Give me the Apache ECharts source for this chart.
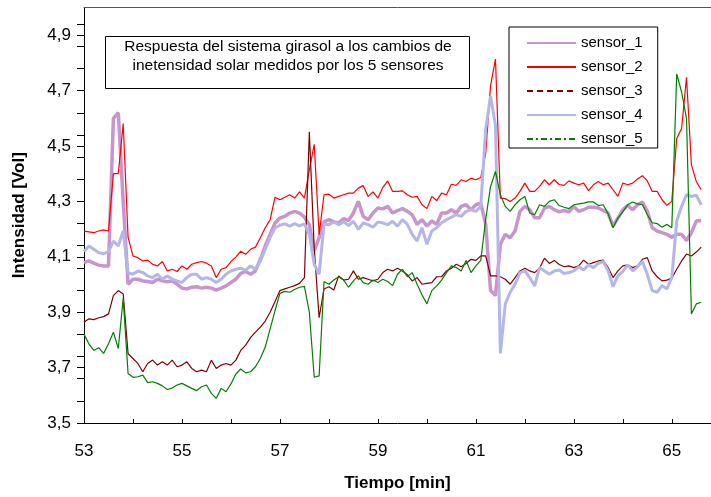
<!DOCTYPE html>
<html>
<head>
<meta charset="utf-8">
<script src="https://cdn.jsdelivr.net/npm/echarts@6/dist/echarts.min.js"></script>
<style>
html,body{margin:0;padding:0;background:#fff;}
#chart{width:711px;height:497px;}
</style>
</head>
<body>
<div id="chart"></div>
<script>
// tiempo en minutos
var tiempo=[53,53.1,53.2,53.3,53.4,53.5,53.6,53.7,53.8,53.9,
	54,54.1,54.2,54.3,54.4,54.5,54.6,54.7,54.8,54.9,
	55,55.1,55.2,55.3,55.4,55.5,55.6,55.7,55.8,55.9,
	56,56.1,56.2,56.3,56.4,56.5,56.6,56.7,56.8,56.9,
	57,57.1,57.2,57.3,57.4,57.5,57.6,57.7,57.8,57.9,
	58,58.1,58.2,58.3,58.4,58.5,58.6,58.7,58.8,58.9,
	59,59.1,59.2,59.3,59.4,59.5,59.6,59.7,59.8,59.9,
	60,60.1,60.2,60.3,60.4,60.5,60.6,60.7,60.8,60.9,
	61,61.1,61.2,61.3,61.4,61.5,61.6,61.7,61.8,61.9,
	62,62.1,62.2,62.3,62.4,62.5,62.6,62.7,62.8,62.9,
	63,63.1,63.2,63.3,63.4,63.5,63.6,63.7,63.8,63.9,
	64,64.1,64.2,64.3,64.4,64.5,64.6,64.7,64.8,64.9,
	65,65.1,65.2,65.3,65.4,65.5,65.6];

var sensor1=[4.079,4.085,4.077,4.070,4.067,4.067,4.60,4.62,4.30,4.001,
	4.019,4.019,4.013,4.011,4.007,4.019,4.013,4.010,4.013,4.001,
	3.987,3.984,3.990,3.992,3.987,3.990,3.987,3.980,3.987,3.995,
	4.007,4.019,4.040,4.047,4.037,4.049,4.091,4.139,4.181,4.222,
	4.240,4.246,4.258,4.264,4.258,4.243,4.216,4.121,4.169,4.226,
	4.234,4.226,4.222,4.238,4.231,4.258,4.300,4.246,4.234,4.258,
	4.276,4.273,4.282,4.258,4.267,4.274,4.264,4.252,4.217,4.234,
	4.211,4.229,4.217,4.258,4.258,4.270,4.258,4.282,4.288,4.270,
	4.288,4.294,4.217,3.978,3.960,4.145,4.181,4.169,4.193,4.264,
	4.282,4.270,4.241,4.241,4.276,4.282,4.270,4.262,4.267,4.262,
	4.282,4.264,4.270,4.279,4.279,4.276,4.267,4.258,4.211,4.240,
	4.270,4.286,4.270,4.288,4.298,4.264,4.205,4.193,4.187,4.181,
	4.171,4.181,4.181,4.159,4.187,4.229,4.231];

var sensor2=[4.193,4.190,4.187,4.193,4.197,4.193,4.400,4.400,4.581,4.170,
	4.103,4.097,4.085,4.088,4.073,4.067,4.083,4.049,4.055,4.047,
	4.067,4.055,4.073,4.079,4.083,4.077,4.067,4.025,4.055,4.061,
	4.083,4.099,4.120,4.109,4.127,4.135,4.169,4.205,4.234,4.315,
	4.306,4.315,4.324,4.312,4.334,4.312,4.414,4.506,4.180,4.324,
	4.326,4.312,4.318,4.324,4.330,4.330,4.348,4.357,4.318,4.334,
	4.312,4.350,4.374,4.336,4.336,4.338,4.324,4.315,4.318,4.288,
	4.274,4.318,4.303,4.330,4.324,4.362,4.358,4.378,4.372,4.384,
	4.378,4.386,4.473,4.718,4.814,4.312,4.310,4.300,4.312,4.336,
	4.366,4.336,4.336,4.354,4.378,4.360,4.378,4.361,4.358,4.374,
	4.366,4.360,4.366,4.339,4.360,4.372,4.360,4.366,4.342,4.318,
	4.366,4.360,4.366,4.381,4.393,4.374,4.336,4.336,4.306,4.286,
	4.300,4.527,4.563,4.748,4.432,4.372,4.342];

var sensor3=[3.864,3.876,3.873,3.880,3.884,3.894,3.960,3.978,3.966,3.750,
	3.733,3.715,3.685,3.715,3.727,3.709,3.721,3.709,3.727,3.703,
	3.709,3.721,3.697,3.685,3.691,3.685,3.727,3.697,3.709,3.715,
	3.709,3.727,3.762,3.781,3.808,3.828,3.846,3.868,3.900,3.939,
	3.978,3.984,3.990,3.996,4.004,4.025,4.551,4.130,3.880,3.984,
	3.992,3.980,4.031,4.016,4.019,4.049,4.019,4.025,4.019,4.013,
	4.019,4.043,4.055,4.049,4.059,4.049,4.035,4.013,4.025,4.001,
	4.004,4.007,4.028,4.028,4.049,4.059,4.073,4.064,4.076,4.091,
	4.087,4.103,4.103,4.031,4.031,4.028,4.019,4.001,4.025,4.049,
	4.059,4.049,4.043,4.059,4.095,4.076,4.087,4.072,4.064,4.067,
	4.061,4.067,4.088,4.073,4.079,4.085,4.088,4.061,4.025,4.049,
	4.067,4.071,4.061,4.067,4.091,4.097,4.049,4.028,4.013,4.016,
	4.023,4.055,4.085,4.110,4.103,4.117,4.135];

var sensor4=[4.119,4.139,4.127,4.115,4.111,4.119,4.157,4.139,4.193,4.043,
	4.037,4.049,4.043,4.031,4.025,4.037,4.019,4.031,4.019,4.013,
	4.007,4.025,4.037,4.037,4.019,4.025,4.019,4.007,4.019,4.037,
	4.049,4.055,4.059,4.052,4.067,4.055,4.085,4.127,4.169,4.205,
	4.214,4.219,4.211,4.220,4.212,4.219,4.181,4.073,4.037,4.219,
	4.216,4.226,4.216,4.226,4.213,4.228,4.199,4.222,4.216,4.207,
	4.226,4.222,4.216,4.228,4.211,4.234,4.217,4.181,4.157,4.205,
	4.145,4.193,4.205,4.223,4.234,4.243,4.252,4.246,4.264,4.270,
	4.264,4.282,4.560,4.680,4.575,3.751,3.930,3.972,4.001,4.043,
	4.049,4.025,3.995,4.061,4.049,4.037,4.049,4.052,4.040,4.043,
	4.049,4.064,4.052,4.071,4.061,4.076,4.083,4.049,3.992,4.031,
	4.047,4.071,4.049,4.064,4.083,4.037,3.978,3.972,3.996,3.984,
	4.025,4.229,4.282,4.324,4.318,4.322,4.288];

var sensor5=[3.820,3.786,3.762,3.772,3.751,3.786,3.828,3.769,3.950,3.679,
	3.665,3.667,3.673,3.646,3.649,3.643,3.634,3.621,3.626,3.637,
	3.643,3.634,3.625,3.617,3.631,3.637,3.607,3.589,3.625,3.613,
	3.641,3.677,3.695,3.681,3.685,3.703,3.733,3.774,3.840,3.906,
	3.968,3.975,3.972,3.982,3.990,3.993,3.900,3.665,3.670,4.011,
	4.001,4.016,4.028,4.016,3.990,4.013,4.031,4.007,4.001,4.016,
	4.007,4.019,4.011,3.996,4.037,4.055,4.028,4.043,4.001,3.963,
	3.930,3.978,3.995,4.016,4.043,4.067,4.061,4.049,4.087,4.043,
	4.067,4.087,4.235,4.354,4.408,4.324,4.282,4.264,4.288,4.306,
	4.318,4.258,4.252,4.288,4.282,4.300,4.306,4.285,4.279,4.274,
	4.288,4.291,4.294,4.298,4.298,4.285,4.288,4.255,4.205,4.240,
	4.262,4.288,4.298,4.291,4.288,4.252,4.223,4.220,4.207,4.217,
	4.205,4.760,4.695,4.600,3.894,3.930,3.936];

// marcas de los ejes
var yEtiquetas=[3.5,3.7,3.9,4.1,4.3,4.5,4.7,4.9];
var yMarcas=[3.5,3.58,3.66,3.74,3.82,3.9,3.98,4.06,4.14,4.22,4.3,4.38,4.46,4.54,4.62,4.7,4.78,4.86,4.94];
var xEtiquetas=[53,55,57,59,61,63,65];
var xMarcas=[54,55,56,57,58,59,60,61,62,63,64,65];

var fuente='"Liberation Sans", Arial, sans-serif';
var sinSimbolo={opacity:0,borderWidth:0};

function pares(v){
	return tiempo.map(function(t,i){return [t,v[i]];});
}

var grafico=echarts.init(document.getElementById('chart'));
var option={
	animation:false,
	backgroundColor:'#fff',
	grid:{
		left:84,
		right:0,
		top:7.5,
		bottom:70.3,
		containLabel:false
	},
	xAxis:[{
		type:'value',
		min:53,
		max:65.8,
		name:'Tiempo [min]',
		nameLocation:'middle',
		nameGap:52,
		nameTextStyle:{fontFamily:fuente,fontSize:17,fontWeight:'bold',color:'#000'},
		axisLine:{show:true,onZero:false,lineStyle:{color:'#000',width:1}},
		axisTick:{show:true,inside:true,length:4,customValues:xMarcas,lineStyle:{color:'#000'}},
		axisLabel:{customValues:xEtiquetas,margin:20,fontFamily:fuente,fontSize:17,color:'#000'},
		splitLine:{show:false}
	},{
		// linea superior del recuadro
		type:'value',
		position:'top',
		min:53,
		max:65.8,
		axisLine:{show:true,onZero:false,lineStyle:{color:'#555',width:1}},
		axisTick:{show:false},
		axisLabel:{show:false},
		splitLine:{show:false}
	}],
	yAxis:{
		type:'value',
		min:3.5,
		max:5.0,
		name:'Intensidad [Vol]',
		nameLocation:'middle',
		nameGap:56,
		nameTextStyle:{fontFamily:fuente,fontSize:17,fontWeight:'bold',color:'#000'},
		axisLine:{show:true,lineStyle:{color:'#000',width:1}},
		axisTick:{show:true,inside:false,length:7,customValues:yMarcas.concat(yEtiquetas),lineStyle:{color:'#000'}},
		axisLabel:{
			customValues:yEtiquetas,
			margin:13,
			fontFamily:fuente,
			fontSize:17,
			color:'#000',
			formatter:function(v){return v.toFixed(1).replace('.',',');}
		},
		splitLine:{show:false}
	},
	legend:{
		orient:'vertical',
		left:509,
		top:27,
		padding:[8,15,1,17],
		itemWidth:49,
		itemHeight:20,
		itemGap:8,
		borderColor:'#000',
		borderWidth:1,
		backgroundColor:'#fff',
		textStyle:{fontFamily:fuente,fontSize:15,color:'#000'},
		data:[
			{name:'sensor_1',itemStyle:sinSimbolo},
			{name:'sensor_2',itemStyle:sinSimbolo},
			{name:'sensor_3',itemStyle:sinSimbolo,lineStyle:{type:[6,4],width:2}},
			{name:'sensor_4',itemStyle:sinSimbolo},
			{name:'sensor_5',itemStyle:sinSimbolo,lineStyle:{type:[6,3,2,3],width:2}}
		]
	},
	graphic:[{
		type:'group',
		left:105,
		top:36,
		children:[{
			type:'rect',
			shape:{x:0.5,y:0.5,width:364,height:52},
			style:{fill:'#fff',stroke:'#000',lineWidth:1}
		},{
			type:'text',
			x:183,
			y:10.5,
			style:{
				text:'Respuesta del sistema girasol a los cambios de',
				font:'15.5px '+fuente,
				fill:'#000',
				align:'center',
				verticalAlign:'middle',
				textAlign:'center',
				textVerticalAlign:'middle'
			}
		},{
			type:'text',
			x:183,
			y:30,
			style:{
				text:'inetensidad solar medidos por los 5 sensores',
				font:'15.5px '+fuente,
				fill:'#000',
				align:'center',
				verticalAlign:'middle',
				textAlign:'center',
				textVerticalAlign:'middle'
			}
		}]
	}],
	series:[{
		name:'sensor_1',
		type:'line',
		data:pares(sensor1),
		symbol:'none',
		lineStyle:{color:'#c994cc',width:3.5},
		itemStyle:{color:'#c994cc'}
	},{
		name:'sensor_2',
		type:'line',
		data:pares(sensor2),
		symbol:'none',
		lineStyle:{color:'#ff0000',width:1.2},
		itemStyle:{color:'#ff0000'}
	},{
		name:'sensor_3',
		type:'line',
		data:pares(sensor3),
		symbol:'none',
		lineStyle:{color:'#800000',width:1.2},
		itemStyle:{color:'#800000'}
	},{
		name:'sensor_4',
		type:'line',
		data:pares(sensor4),
		symbol:'none',
		lineStyle:{color:'#b2b6ea',width:3},
		itemStyle:{color:'#b2b6ea'}
	},{
		name:'sensor_5',
		type:'line',
		data:pares(sensor5),
		symbol:'none',
		lineStyle:{color:'#008000',width:1.2},
		itemStyle:{color:'#008000'}
	}]
};
grafico.setOption(option);
</script>
</body>
</html>
